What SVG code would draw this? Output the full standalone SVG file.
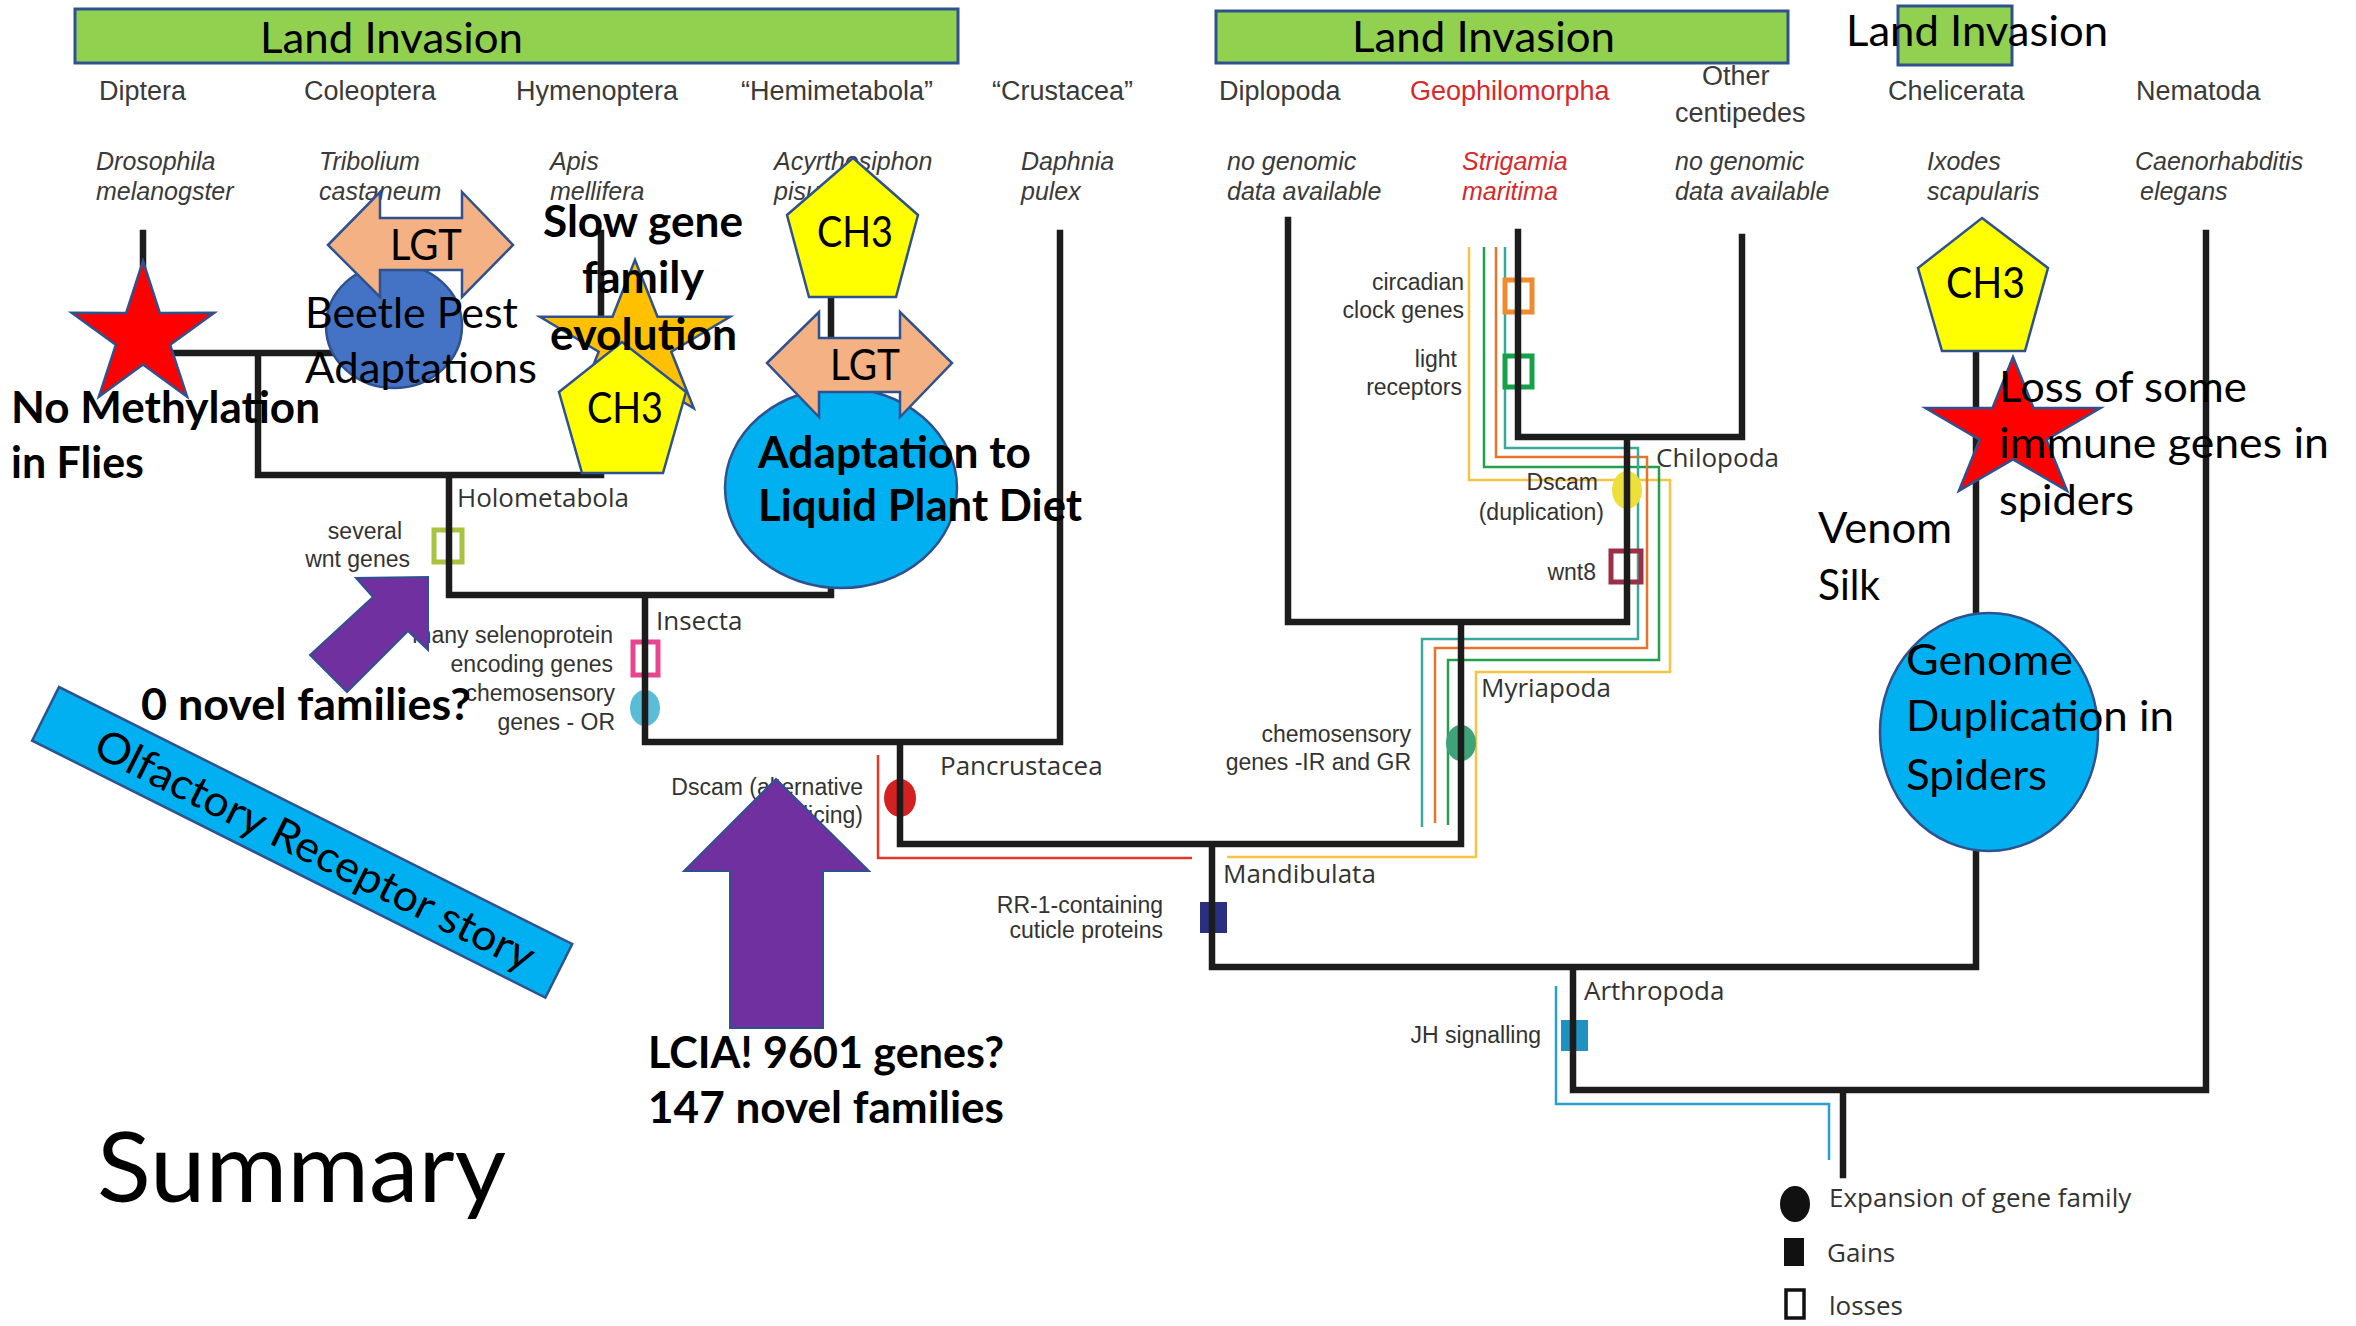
<svg xmlns="http://www.w3.org/2000/svg" width="2356" height="1326" viewBox="0 0 2356 1326">
<style>
.tree{stroke:#1c1c1c;stroke-width:6.5;fill:none;stroke-linecap:square;stroke-linejoin:miter}
.cl-line{fill:none;stroke-width:2.5}
.hdr{font-family:"Liberation Sans",Arial,sans-serif;font-size:27px;fill:#3a3a3a}
.sp{font-family:"Liberation Sans",Arial,sans-serif;font-style:italic;font-size:25px;fill:#3a3a3a}
.red{fill:#d7282a}
.gl{font-family:"Liberation Sans",Arial,sans-serif;font-size:23px;fill:#333;text-anchor:end}
.clade{font-family:"Open Sans","Liberation Sans",sans-serif;font-size:26px;fill:#333}
.cal{font-family:Lato,"Liberation Sans",sans-serif;font-size:43px;fill:#000}
.b{font-weight:bold}
.ol{stroke:#2f528f;stroke-width:2.5}
.bar{fill:#92d050;stroke:#2f528f;stroke-width:3}
.pent{fill:#ffff00;stroke:#2f528f;stroke-width:2.5}
.lgt{fill:#f4b183;stroke:#2f528f;stroke-width:2.5}
.purple{fill:#7030a0;stroke:#2f528f;stroke-width:2}
.sq{fill:none;stroke-width:5}
</style>
<rect width="2356" height="1326" fill="#fff"/>

<g id="land-invasion-bars">
<rect class="bar" x="75" y="9" width="883" height="54"/>
<text class="cal" x="260" y="53" textLength="263" lengthAdjust="spacingAndGlyphs">Land Invasion</text>
<rect class="bar" x="1216" y="11" width="572" height="52"/>
<text class="cal" x="1352" y="52" textLength="263" lengthAdjust="spacingAndGlyphs">Land Invasion</text>
<rect class="bar" x="1898" y="6" width="114" height="59"/>
<text class="cal" x="1846" y="46" textLength="262" lengthAdjust="spacingAndGlyphs">Land Invasion</text>
</g>

<g id="taxa-headers">
<text class="hdr" x="99" y="100">Diptera</text>
<text class="hdr" x="304" y="100">Coleoptera</text>
<text class="hdr" x="516" y="100">Hymenoptera</text>
<text class="hdr" x="741" y="100">“Hemimetabola”</text>
<text class="hdr" x="992" y="100">“Crustacea”</text>
<text class="hdr" x="1219" y="100">Diplopoda</text>
<text class="hdr red" x="1410" y="100">Geophilomorpha</text>
<text class="hdr" x="1702" y="85">Other</text>
<text class="hdr" x="1675" y="122">centipedes</text>
<text class="hdr" x="1888" y="100">Chelicerata</text>
<text class="hdr" x="2136" y="100">Nematoda</text>
</g>

<g id="species">
<text class="sp" x="96" y="170">Drosophila</text>
<text class="sp" x="96" y="200">melanogster</text>
<text class="sp" x="319" y="170">Tribolium</text>
<text class="sp" x="319" y="200">castaneum</text>
<text class="sp" x="550" y="170">Apis</text>
<text class="sp" x="550" y="200">mellifera</text>
<text class="sp" x="774" y="170">Acyrthosiphon</text>
<text class="sp" x="774" y="200">pisum</text>
<text class="sp" x="1021" y="170">Daphnia</text>
<text class="sp" x="1021" y="200">pulex</text>
<text class="sp" x="1227" y="170">no genomic</text>
<text class="sp" x="1227" y="200">data available</text>
<text class="sp red" x="1462" y="170">Strigamia</text>
<text class="sp red" x="1462" y="200">maritima</text>
<text class="sp" x="1675" y="170">no genomic</text>
<text class="sp" x="1675" y="200">data available</text>
<text class="sp" x="1927" y="170">Ixodes</text>
<text class="sp" x="1927" y="200">scapularis</text>
<text class="sp" x="2135" y="170">Caenorhabditis</text>
<text class="sp" x="2140" y="200">elegans</text>
</g>

<g id="connectors">
<path class="cl-line" stroke="#f6c343" d="M1469,247 V480 H1670 V672 H1476 V857 H1227"/>
<path class="cl-line" stroke="#22a04b" d="M1484,247 V467 H1659 V660 H1448 V825"/>
<path class="cl-line" stroke="#e8732b" d="M1496,247 V457 H1647 V648 H1435 V823"/>
<path class="cl-line" stroke="#3ba99a" d="M1505,247 V448 H1638 V639 H1422 V827"/>
<path class="cl-line" stroke="#e23a2a" stroke-width="2" d="M878,755 V858 H1192"/>
<path class="cl-line" stroke="#2a9fd0" d="M1556,986 V1104 H1829 V1160"/>
</g>

<g id="markers">
<rect class="sq" stroke="#a9c23f" x="434" y="530" width="28" height="32"/>
<rect class="sq" stroke="#e5468f" x="633" y="642" width="25" height="33"/>
<ellipse cx="645" cy="708" rx="15" ry="18" fill="#5bbcd6"/>
<ellipse cx="900" cy="798" rx="16" ry="19" fill="#d42020"/>
<rect x="1200" y="902" width="27" height="31" fill="#2b2f80"/>
<rect class="sq" stroke="#ef8a2f" stroke-width="4.5" x="1505" y="280" width="27" height="32"/>
<rect class="sq" stroke="#16a04a" x="1505" y="356" width="27" height="31"/>
<ellipse cx="1627" cy="490" rx="15" ry="19" fill="#ede03a"/>
<rect class="sq" stroke="#9b2f45" x="1611" y="551" width="30" height="31"/>
<ellipse cx="1461" cy="743" rx="15" ry="18" fill="#3fa37a"/>
<rect x="1561" y="1020" width="27" height="31" fill="#1f92c2"/>
</g>

<g id="tree">
<path class="tree" d="M143,233 V353 H390 M390,233 V353 M258,353 V475 H601 M601,233 V475 M449,475 V595 H831 M831,240 V595 M645,595 V742 H1060 M1060,233 V742 M900,742 V844 H1461 M1461,622 V844 M1288,220 V622 H1627 M1627,437 V622 M1518,232 V437 H1742 M1742,237 V437 M1212,844 V967 H1976 M1976,350 V967 M1573,967 V1090 H2206 M2206,233 V1090 M1843,1090 V1175"/>
</g>

<g id="clade-labels">
<text class="clade" x="457" y="507">Holometabola</text>
<text class="clade" x="656" y="630">Insecta</text>
<text class="clade" x="940" y="775">Pancrustacea</text>
<text class="clade" x="1223" y="883">Mandibulata</text>
<text class="clade" x="1584" y="1000">Arthropoda</text>
<text class="clade" x="1481" y="697">Myriapoda</text>
<text class="clade" x="1656" y="467">Chilopoda</text>
</g>

<g id="gene-labels">
<text class="gl" x="402" y="539">several</text>
<text class="gl" x="410" y="567">wnt genes</text>
<text class="gl" x="613" y="643">many selenoprotein</text>
<text class="gl" x="613" y="672">encoding genes</text>
<text class="gl" x="615" y="701">chemosensory</text>
<text class="gl" x="615" y="730">genes - OR</text>
<text class="gl" x="863" y="795">Dscam (alternative</text>
<text class="gl" x="863" y="823">splicing)</text>
<text class="gl" x="1163" y="913">RR-1-containing</text>
<text class="gl" x="1163" y="938">cuticle proteins</text>
<text class="gl" x="1411" y="742">chemosensory</text>
<text class="gl" x="1411" y="770">genes -IR and GR</text>
<text class="gl" x="1541" y="1043">JH signalling</text>
<text class="gl" x="1464" y="290">circadian</text>
<text class="gl" x="1464" y="318">clock genes</text>
<text class="gl" x="1457" y="367">light</text>
<text class="gl" x="1462" y="395">receptors</text>
<text class="gl" x="1598" y="490">Dscam</text>
<text class="gl" x="1604" y="520">(duplication)</text>
<text class="gl" x="1596" y="580">wnt8</text>
</g>

<g id="legend">
<ellipse cx="1795" cy="1204" rx="15" ry="18" fill="#111"/>
<text class="clade" x="1829" y="1207">Expansion of gene family</text>
<rect x="1784" y="1238" width="20" height="28" fill="#111"/>
<text class="clade" x="1827" y="1262">Gains</text>
<rect x="1786" y="1290" width="18" height="28" fill="none" stroke="#111" stroke-width="3.5"/>
<text class="clade" x="1829" y="1315">losses</text>
</g>

<g id="no-methylation">
<polygon fill="#ff0000" class="ol" points="143,261 159.8,312.9 214.3,312.8 170.2,344.8 187.1,396.7 143,364.6 98.9,396.7 115.8,344.8 71.7,312.8 126.2,312.9"/>
<text class="cal b" x="11" y="423" textLength="309" lengthAdjust="spacingAndGlyphs">No Methylation</text>
<text class="cal b" x="11" y="478" textLength="133" lengthAdjust="spacingAndGlyphs">in Flies</text>
</g>

<g id="beetle-pest">
<ellipse cx="394" cy="326" rx="68" ry="62" fill="#4472c4" class="ol"/>
<polygon class="lgt" points="328,245 380,192 380,218 462,218 462,192 513,245 462,297 462,270 380,270 380,297"/>
<text class="cal" x="390" y="260" textLength="72" lengthAdjust="spacingAndGlyphs">LGT</text>
<text class="cal" x="305" y="328" textLength="213" lengthAdjust="spacingAndGlyphs">Beetle Pest</text>
<text class="cal" x="305" y="383" textLength="232" lengthAdjust="spacingAndGlyphs">Adaptations</text>
</g>

<g id="slow-gene">
<polygon fill="#ffc000" class="ol" points="635,260 657.5,316.7 730.1,316.7 671.3,351.7 693.8,408.3 635,373.3 576.2,408.3 598.7,351.7 539.9,316.7 612.5,316.7"/>
<polygon class="pent" points="622,342 686,392 663,473 582,473 559,392"/>
<text class="cal" x="587" y="423" textLength="76" lengthAdjust="spacingAndGlyphs">CH3</text>
<text class="cal b" x="543" y="237" textLength="200" lengthAdjust="spacingAndGlyphs">Slow gene</text>
<text class="cal b" x="582" y="293" textLength="122" lengthAdjust="spacingAndGlyphs">family</text>
<text class="cal b" x="550" y="350" textLength="187" lengthAdjust="spacingAndGlyphs">evolution</text>
</g>

<g id="liquid-diet">
<polygon class="pent" points="853,158 918,215 896,297 809,297 787,215"/>
<text class="cal" x="817" y="247" textLength="76" lengthAdjust="spacingAndGlyphs">CH3</text>
<ellipse cx="841" cy="488" rx="116" ry="100" fill="#00b0f0" class="ol"/>
<polygon class="lgt" points="767,363 819,312 819,338 900,338 900,312 952,363 900,417 900,392 819,392 819,417"/>
<text class="cal" x="830" y="380" textLength="70" lengthAdjust="spacingAndGlyphs">LGT</text>
<text class="cal b" x="758" y="468" textLength="273" lengthAdjust="spacingAndGlyphs">Adaptation to</text>
<text class="cal b" x="758" y="521" textLength="324" lengthAdjust="spacingAndGlyphs">Liquid Plant Diet</text>
</g>

<g id="spiders">
<polygon class="pent" points="1982,218 2048,268 2025,351 1942,351 1918,268"/>
<text class="cal" x="1946" y="298" textLength="79" lengthAdjust="spacingAndGlyphs">CH3</text>
<polygon fill="#ff0000" class="ol" points="2013,357 2033.6,408.1 2100.5,408.1 2046.4,439.7 2067.1,490.9 2013,459.3 1958.9,490.9 1979.6,439.7 1925.5,408.1 1992.4,408.1"/>
<text class="cal" x="1999" y="402" textLength="248" lengthAdjust="spacingAndGlyphs">Loss of some</text>
<text class="cal" x="1999" y="458" textLength="330" lengthAdjust="spacingAndGlyphs">immune genes in</text>
<text class="cal" x="1999" y="515" textLength="135" lengthAdjust="spacingAndGlyphs">spiders</text>
<text class="cal" x="1818" y="543" textLength="134" lengthAdjust="spacingAndGlyphs">Venom</text>
<text class="cal" x="1818" y="600" textLength="62" lengthAdjust="spacingAndGlyphs">Silk</text>
<ellipse cx="1989" cy="732" rx="109" ry="119" fill="#00b0f0" class="ol"/>
<text class="cal" x="1906" y="675" textLength="167" lengthAdjust="spacingAndGlyphs">Genome</text>
<text class="cal" x="1906" y="731" textLength="268" lengthAdjust="spacingAndGlyphs">Duplication in</text>
<text class="cal" x="1906" y="790" textLength="141" lengthAdjust="spacingAndGlyphs">Spiders</text>
</g>

<g id="olfactory">
<g transform="translate(59,687) rotate(26.6)">
<rect x="0" y="0" width="574" height="60" fill="#00b0f0" class="ol"/>
<text class="cal" x="302" y="46" text-anchor="middle" textLength="486" lengthAdjust="spacingAndGlyphs">Olfactory Receptor story</text>
</g>
</g>

<g id="novel-families">
<polygon class="purple" points="428,577 428,650 408,631 347,692 310,655 373,597 356,578"/>
<text class="cal b" x="141" y="720" textLength="330" lengthAdjust="spacingAndGlyphs">0 novel families?</text>
</g>

<g id="lcia">
<polygon class="purple" points="776,779 869,871 823,871 823,1028 730,1028 730,871 684,871"/>
<text class="cal b" x="648" y="1068" textLength="356" lengthAdjust="spacingAndGlyphs">LCIA! 9601 genes?</text>
<text class="cal b" x="648" y="1123" textLength="356" lengthAdjust="spacingAndGlyphs">147 novel families</text>
</g>

<g id="summary">
<text class="cal" style="font-size:96px" x="97" y="1202" textLength="409" lengthAdjust="spacingAndGlyphs">Summary</text>
</g>
</svg>
